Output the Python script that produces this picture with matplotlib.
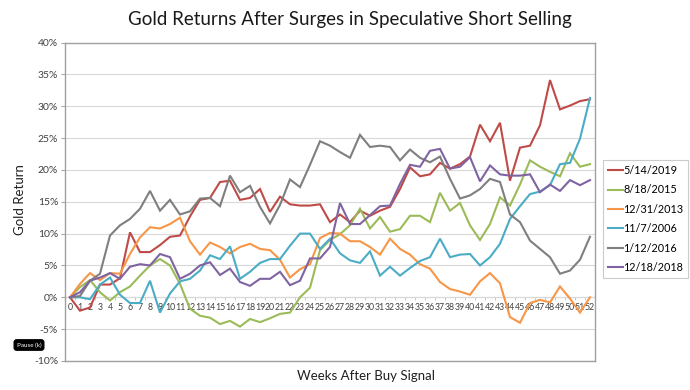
import matplotlib
matplotlib.use('Agg')
import matplotlib.pyplot as plt
import numpy as np

plt.rcParams['font.family'] = ['Lato', 'DejaVu Sans']

weeks = list(range(53))
series_labels = ['5/14/2019', '8/18/2015', '12/31/2013', '11/7/2006', '1/12/2016', '12/18/2018']
series_colors = ['#BE4B48', '#9BBB59', '#F79646', '#4BACC6', '#7F7F7F', '#8064A2']

s_20190514 = [0, -2.1, -1.6, 2.0, 2.0, 3.0, 10.2, 7.1, 7.1, 8.2,
              9.5, 9.7, 12.7, 15.3, 15.6, 18.1, 18.3, 15.3, 15.6, 17.0,
              13.4, 15.8, 14.6, 14.4, 14.4, 14.6, 11.8, 13.0, 11.8, 13.6,
              12.8, 13.6, 14.2, 17.0, 20.4, 19.0, 19.3, 21.1, 20.2, 20.9,
              22.1, 27.1, 24.5, 27.4, 18.3, 23.5, 23.8, 27.0, 34.1, 29.5,
              30.1, 30.8, 31.1]
s_20150818 = [0, 1.6, 2.7, 0.8, -0.5, 0.8, 1.7, 3.4, 5.0, 6.0,
              5.0, 2.1, -1.8, -2.9, -3.2, -4.2, -3.7, -4.6, -3.4, -3.9,
              -3.3, -2.6, -2.4, 0.0, 1.5, 7.4, 9.0, 9.9, 11.3, 13.9,
              10.8, 12.6, 10.3, 10.7, 12.8, 12.8, 11.8, 16.4, 13.6, 14.8,
              11.3, 9.0, 11.5, 15.7, 14.4, 17.7, 21.5, 20.5, 19.7, 19.0,
              22.6, 20.5, 20.9]
s_20131231 = [0, 2.1, 3.8, 2.7, 3.8, 3.7, 6.8, 9.4, 11.0, 10.8,
              11.5, 12.5, 8.8, 6.7, 8.6, 7.9, 6.9, 7.9, 8.4, 7.6,
              7.4, 5.9, 3.1, 4.4, 5.2, 9.3, 10.1, 10.0, 8.8, 8.8,
              7.9, 6.7, 9.2, 7.6, 6.7, 5.2, 4.5, 2.4, 1.3, 0.9,
              0.4, 2.5, 3.8, 2.2, -3.1, -4.0, -0.9, -0.4, -0.8, 1.7,
              -0.2, -2.4, 0.0]
s_20061107 = [0, 0.0, -0.3, 2.0, 3.1, 0.4, -0.9, -0.9, 2.6, -2.4,
              0.6, 2.5, 2.9, 4.2, 6.6, 6.0, 8.0, 2.9, 4.0, 5.4,
              6.0, 6.0, 8.1, 10.0, 10.0, 7.6, 9.2, 6.9, 5.8, 5.4,
              7.2, 3.4, 4.8, 3.4, 4.6, 5.7, 6.3, 9.2, 6.3, 6.7,
              6.8, 5.0, 6.3, 8.4, 12.3, 14.3, 16.2, 16.6, 17.6, 20.9,
              21.1, 24.9, 31.3]
s_20160112 = [0, 0.2, 2.6, 3.7, 9.7, 11.3, 12.3, 13.9, 16.7, 13.6,
              15.3, 13.0, 13.5, 15.5, 15.6, 14.3, 19.1, 16.5, 17.5, 14.2,
              11.6, 14.5, 18.5, 17.3, 20.8, 24.5, 23.8, 22.8, 21.9, 25.5,
              23.6, 23.8, 23.6, 21.5, 23.2, 21.9, 21.2, 22.1, 18.6, 15.5,
              16.0, 17.0, 18.6, 18.1, 13.0, 11.8, 8.9, 7.6, 6.3, 3.7,
              4.2, 5.9, 9.5]
s_20181218 = [0, 0.8, 2.6, 3.1, 3.8, 2.9, 4.8, 5.2, 5.0, 6.8,
              6.3, 2.9, 3.7, 5.0, 5.5, 3.5, 4.5, 2.4, 1.8, 2.9,
              2.9, 4.0, 1.9, 2.6, 6.1, 6.1, 7.9, 14.8, 11.5, 11.5,
              12.9, 14.3, 14.4, 17.8, 20.8, 20.5, 23.0, 23.3, 20.2, 20.5,
              22.0, 18.2, 20.7, 19.3, 19.1, 19.1, 19.3, 16.5, 17.7, 16.7,
              18.4, 17.6, 18.4]

yticks = list(range(-10, 41, 5))
ytick_labels = [f'{v}%' for v in yticks]
xtick_labels = [str(w) for w in weeks]

all_series = [s_20190514, s_20150818, s_20131231, s_20061107, s_20160112, s_20181218]

fig = plt.figure(figsize=(6.9, 3.9), dpi=100)
ax = fig.add_axes([65/690, 1-361/390, 530/690, 318.5/390])

for vals, lab, col in zip(all_series, series_labels, series_colors):
    ax.plot(weeks, vals, color=col, lw=1.5, label=lab, solid_joinstyle='miter')

ax.set_xlim(-0.5, 52.5)
ax.set_ylim(-10, 40)
ax.set_yticks(yticks)
ax.set_yticklabels(ytick_labels)
ax.tick_params(axis='y', length=3, color='#A6A6A6', labelsize=7.5, pad=2, labelcolor='#404040')
ax.set_xticks([])
ax.grid(axis='y', color='#D9D9D9', lw=0.8)
ax.set_axisbelow(True)
for sp in ax.spines.values():
    sp.set_color('#A0A0A0')
    sp.set_linewidth(1.0)

sec = ax.secondary_xaxis(0.2)
sec.set_xticks(weeks)
sec.set_xticklabels(xtick_labels)
sec.set_xticks(np.arange(-0.5, 53, 1), minor=True)
sec.tick_params(axis='x', which='major', length=0, pad=4, labelsize=6.3, labelcolor='#404040')
sec.tick_params(axis='x', which='minor', length=2.5, color='#BFBFBF')
sec.spines['bottom'].set_color('#BFBFBF')
sec.spines['bottom'].set_linewidth(0.8)

fig.text(350/690, 1-20/390, 'Gold Returns After Surges in Speculative Short Selling',
         ha='center', va='center', fontsize=13.5, color='#1A1A1A')
fig.text(366/690, 1-376/390, 'Weeks After Buy Signal', ha='center', va='center',
         fontsize=9.5, color='#202020')
fig.text(20/690, 1-200/390, 'Gold Return', ha='center', va='center', rotation=90,
         fontsize=9.5, color='#202020')
fig.text(29/690, 1-345/390, 'Pause (k)', ha='center', va='center', fontsize=4.5,
         color='white', bbox=dict(facecolor='black', edgecolor='black',
                                  boxstyle='round,pad=0.4'))

leg = fig.legend(loc='upper left', bbox_to_anchor=(603/690, 1-160/390),
                 bbox_transform=fig.transFigure, fontsize=7.8, frameon=True,
                 fancybox=False, handlelength=1.35, handletextpad=0.08,
                 labelspacing=0.78, borderpad=0.45, borderaxespad=0)
leg.get_frame().set_edgecolor('#BFBFBF')
leg.get_frame().set_linewidth(0.8)

fig.savefig('out.png', dpi=100)
